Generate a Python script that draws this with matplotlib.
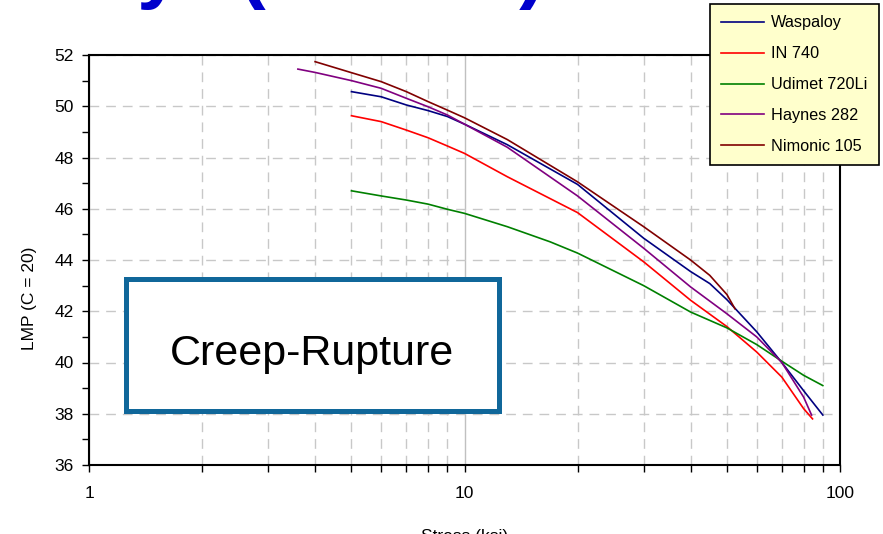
import matplotlib
matplotlib.use('Agg')
import matplotlib.pyplot as plt
from matplotlib.patches import Rectangle
from matplotlib.ticker import FixedLocator, NullFormatter

plt.rcParams['font.family'] = ['Liberation Sans', 'DejaVu Sans']

# ---------------- data ----------------
names = ['Waspaloy', 'IN 740', 'Udimet 720Li', 'Haynes 282', 'Nimonic 105']
colors = ['#000080', '#ff0000', '#008000', '#800080', '#800000']

waspaloy_x = [5, 6, 7, 8, 9, 10, 13, 20, 30, 40, 45, 50, 60, 70, 80, 90]
waspaloy_y = [50.57, 50.37, 50.05, 49.83, 49.6, 49.3, 48.5, 46.95, 44.85, 43.55, 43.08, 42.45, 41.2, 40.0, 38.9, 37.95]

in740_x = [5, 6, 7, 8, 9, 10, 13, 20, 30, 40, 50, 60, 70, 80, 84.5]
in740_y = [49.63, 49.4, 49.07, 48.77, 48.45, 48.16, 47.25, 45.85, 43.93, 42.43, 41.4, 40.41, 39.43, 38.2, 37.8]

udimet_x = [5, 6, 7, 8, 9, 10, 13, 16.9, 20, 30, 40, 50, 60, 70, 80, 90]
udimet_y = [46.7, 46.5, 46.34, 46.18, 45.98, 45.82, 45.3, 44.71, 44.27, 43.0, 41.97, 41.35, 40.7, 40.05, 39.5, 39.1]

haynes_x = [3.6, 4, 5, 6, 7, 8, 9, 10, 13, 20, 30, 40, 50, 60, 70, 80, 84]
haynes_y = [51.45, 51.32, 51.0, 50.7, 50.31, 49.98, 49.66, 49.3, 48.4, 46.5, 44.46, 42.95, 41.9, 41.0, 40.0, 38.65, 37.95]

nimonic_x = [4, 5, 6, 7, 8, 9, 10, 13, 20, 30, 40, 45, 50, 52.5]
nimonic_y = [51.74, 51.31, 50.96, 50.57, 50.18, 49.85, 49.55, 48.7, 47.05, 45.3, 44.0, 43.4, 42.65, 42.1]

series_x = [waspaloy_x, in740_x, udimet_x, haynes_x, nimonic_x]
series_y = [waspaloy_y, in740_y, udimet_y, haynes_y, nimonic_y]

x_major = [1, 10, 100]
x_major_labels = ['1', '10', '100']
x_minor = [2, 3, 4, 5, 6, 7, 8, 9, 20, 30, 40, 50, 60, 70, 80, 90]
y_major = [36, 38, 40, 42, 44, 46, 48, 50, 52]
y_minor = [37, 39, 41, 43, 45, 47, 49, 51]

# ---------------- figure ----------------
W, H = 883, 534
fig = plt.figure(figsize=(W / 100, H / 100), dpi=100)
ax = fig.add_axes([89 / W, 1 - 465 / H, (840 - 89) / W, (465 - 55) / H])
ax.set_xscale('log')
ax.set_xlim(1, 100)
ax.set_ylim(36, 52)

ax.xaxis.set_major_locator(FixedLocator(x_major))
ax.set_xticklabels(x_major_labels)
ax.xaxis.set_minor_locator(FixedLocator(x_minor))
ax.xaxis.set_minor_formatter(NullFormatter())
ax.yaxis.set_major_locator(FixedLocator(y_major))
ax.yaxis.set_minor_locator(FixedLocator(y_minor))
ax.yaxis.set_minor_formatter(NullFormatter())

ax.grid(False)
ax.xaxis.grid(True, which='major', color='#c0c0c0', lw=1.0, ls='-')
ax.xaxis.grid(True, which='minor', color='#c8c8c8', lw=1.0, ls=(0, (7, 5)))
ax.yaxis.grid(True, which='major', color='#c8c8c8', lw=1.0, ls=(0, (7, 5)))
ax.set_axisbelow(True)

for s in ax.spines.values():
    s.set_linewidth(1.5)
    s.set_color('black')

ax.tick_params(which='both', direction='out', length=5, width=1.0, color='black')
ax.tick_params(axis='x', which='major', labelsize=12.5, pad=10)
ax.tick_params(axis='y', which='major', labelsize=12.5, pad=6)

for xs, ys, nm, c in zip(series_x, series_y, names, colors):
    ax.plot(xs, ys, color=c, lw=1.2, label=nm)

leg = ax.legend(loc='upper left', bbox_to_anchor=(710 / W, 1 - 4 / H),
                bbox_transform=fig.transFigure, frameon=True, fancybox=False,
                facecolor='#ffffcc', edgecolor='black', framealpha=1,
                fontsize=11.7, handlelength=2.6, handletextpad=0.45,
                labelspacing=0.98, borderpad=0.7, borderaxespad=0)
leg.get_frame().set_linewidth(1.2)
leg.set_zorder(10)

# axis labels
fig.text(30 / W, 1 - 298 / H, 'LMP (C = 20)', rotation=90, ha='center',
         va='center', fontsize=12.5)
fig.text(465 / W, 1 - 541 / H, 'Stress (ksi)', ha='center', va='baseline',
         fontsize=12.5)

# slide title (mostly cut off at the top)
fig.text(182 / W, 1 + 7 / H, 'Candidate Alloy', ha='right', va='baseline',
         fontsize=57.6, weight='bold', color='#0000cc')
fig.text(239 / W, 1 + 7 / H, '(A-USC)', ha='left', va='baseline',
         fontsize=57.6, weight='bold', color='#0000cc')

# Creep-Rupture box
rect = Rectangle((126 / W, 1 - 411 / H), (499 - 126) / W, (411 - 279) / H,
                 transform=fig.transFigure, facecolor='white',
                 edgecolor='#10679a', lw=3.6, zorder=5, joinstyle='miter')
fig.add_artist(rect)
fig.text(312 / W, 1 - 365 / H, 'Creep-Rupture', ha='center', va='baseline',
         fontsize=31, zorder=6)

fig.savefig('out.png', dpi=100)
